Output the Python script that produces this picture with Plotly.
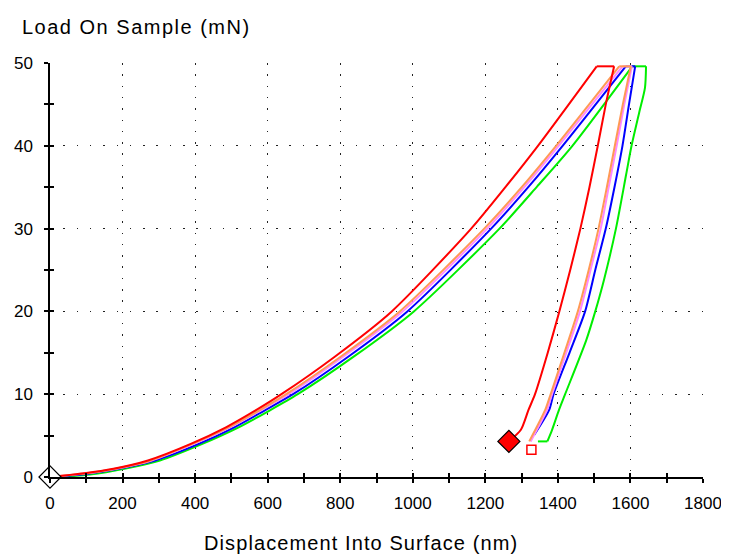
import plotly.graph_objects as go

# ---------------- data (displacement nm, load mN) ----------------
red_x = [0, 95, 175, 270, 388, 485, 569, 638, 784, 942, 1161, 1257, 1345, 1507,
         1555, 1532, 1510, 1487, 1462, 1434, 1404, 1372, 1337, 1319, 1298, 1265]
red_y = [0, 0.45, 1.0, 2.0, 4.0, 6.0, 8.1, 10, 14.5, 20, 30, 35.1, 40, 49.6,
         49.6, 45, 40, 35, 30, 25, 20, 15, 10, 8.1, 5.7, 4.3]

orange_x = [0, 100, 180, 277, 392, 492, 575, 651, 800, 964, 1197, 1302, 1395, 1569,
            1601, 1579, 1557, 1535, 1512, 1485, 1455, 1418, 1380, 1365, 1321]
orange_y = [0, 0.45, 1.0, 2.0, 4.0, 6.0, 8.0, 10, 14.5, 20, 30, 35.1, 40, 49.6,
            49.6, 45, 40, 35, 30, 25, 20, 15, 10, 8.1, 4.3]

pink_x = [0, 102, 182, 280, 396, 496, 579, 658, 807, 972, 1205, 1309, 1402, 1578,
          1604, 1583, 1562, 1540, 1518, 1490, 1461, 1423, 1384, 1370, 1325]
pink_y = [0, 0.45, 1.0, 2.0, 4.0, 6.0, 8.0, 10, 14.5, 20, 30, 35.1, 40, 49.6,
          49.6, 45, 40, 35, 30, 25, 20, 15, 10, 8.1, 4.3]

blue_x = [10, 105, 190, 290, 410, 508, 590, 670, 821, 985, 1216, 1320, 1413, 1587,
          1613, 1596, 1578, 1556, 1532, 1503, 1475, 1432, 1388, 1376, 1335]
blue_y = [0, 0.4, 1.0, 2.0, 4.0, 6.0, 8.0, 10, 14.5, 20, 30, 35.1, 40, 49.6,
          49.6, 45, 40, 35, 30, 25, 20, 15, 10, 8.1, 5.1]

green_x = [30, 110, 205, 303, 420, 520, 604, 683, 836, 1003, 1239, 1343, 1440, 1605,
           1643, 1640, 1624, 1603, 1588, 1560, 1527, 1503, 1478, 1420, 1403, 1384, 1371, 1345]
green_y = [0, 0.3, 1.0, 2.0, 4.0, 6.0, 8.0, 10, 14.5, 20, 30, 35.1, 40, 49.6,
           49.6, 47, 44, 40, 36.5, 30, 23.8, 20, 16.5, 10, 8.1, 5.7, 4.3, 4.3]

start_marker = (0, 0)
red_end_marker = (1265, 4.3)
red_square_marker = (1327, 3.3)

x_ticks = [0, 200, 400, 600, 800, 1000, 1200, 1400, 1600, 1800]
y_ticks = [0, 10, 20, 30, 40, 50]

# ---------------- figure ----------------
fig = go.Figure()
series = [
    (green_x, green_y, "#00ee00"),
    (blue_x, blue_y, "#0000ff"),
    (pink_x, pink_y, "#ff88ff"),
    (orange_x, orange_y, "#ff9955"),
    (red_x, red_y, "#ff0000"),
]


def add_line(xs, ys, color, shape):
    fig.add_trace(go.Scatter(x=xs, y=ys, mode="lines",
                             line=dict(color=color, width=2, shape=shape,
                                       smoothing=0.7 if shape == "spline" else None),
                             showlegend=False, hoverinfo="skip"))


for xs, ys, c in series:
    peak = max(ys)
    i0 = ys.index(peak)              # end of loading
    i1 = i0 + 1                      # end of hold
    # loading, hold, unloading segments of the same series
    add_line(xs[:i0 + 1], ys[:i0 + 1], c, "spline")
    add_line(xs[i0:i1 + 1], ys[i0:i1 + 1], c, "linear")
    tail = len(ys) - 1
    if ys[tail] == ys[tail - 1]:
        add_line(xs[i1:tail], ys[i1:tail], c, "spline")
        add_line(xs[tail - 1:], ys[tail - 1:], c, "linear")
    else:
        add_line(xs[i1:], ys[i1:], c, "spline")

fig.add_trace(go.Scatter(x=[start_marker[0]], y=[start_marker[1]], mode="markers",
                         marker=dict(symbol="diamond", size=17, color="white",
                                     line=dict(color="black", width=1.2)),
                         showlegend=False, cliponaxis=False))
fig.add_trace(go.Scatter(x=[red_end_marker[0]], y=[red_end_marker[1]], mode="markers",
                         marker=dict(symbol="diamond", size=17, color="#ff0000",
                                     line=dict(color="black", width=1.2)),
                         showlegend=False, cliponaxis=False))
fig.add_trace(go.Scatter(x=[red_square_marker[0]], y=[red_square_marker[1]], mode="markers",
                         marker=dict(symbol="square-open", size=9, color="#ff0000",
                                     line=dict(width=1.5)),
                         showlegend=False, cliponaxis=False))
# invisible trace for overlay axes (inside tick halves)
fig.add_trace(go.Scatter(x=[0], y=[0], xaxis="x2", yaxis="y2", mode="markers",
                         marker=dict(opacity=0), showlegend=False, hoverinfo="skip"))

font = dict(family="Liberation Sans, Arial, sans-serif", size=17, color="black")
title_font = dict(family="Liberation Sans, Arial, sans-serif", size=20, color="black")

# page body has an 8px default margin, so the figure is 8px smaller
fig.update_layout(
    width=721, height=546,
    margin=dict(l=42, r=26, t=55, b=77),
    paper_bgcolor="white", plot_bgcolor="white",
    font=font,
    xaxis=dict(range=[0, 1800], tickmode="array", tickvals=x_ticks,
               ticktext=[str(v) for v in x_ticks],
               showline=True, linecolor="black", linewidth=1.5,
               ticks="outside", ticklen=4, tickwidth=1.5, tickcolor="black",
               minor=dict(dtick=100, ticks="outside", ticklen=4, tickwidth=1.5,
                          tickcolor="black", showgrid=False),
               showgrid=True, gridcolor="#222", gridwidth=1, griddash="1.5px,9.8px",
               zeroline=False, ticklabelstandoff=6, tickfont=font, automargin=False),
    yaxis=dict(range=[0, 50], tickmode="array", tickvals=y_ticks,
               ticktext=[str(v) for v in y_ticks],
               showline=True, linecolor="black", linewidth=1.5,
               ticks="outside", ticklen=4, tickwidth=1.5, tickcolor="black",
               minor=dict(dtick=5, ticks="outside", ticklen=4, tickwidth=1.5,
                          tickcolor="black", showgrid=False),
               showgrid=True, gridcolor="#222", gridwidth=1, griddash="1.5px,11.8px",
               zeroline=False, ticklabelstandoff=8, tickfont=font, automargin=False),
    xaxis2=dict(overlaying="x", matches="x", range=[0, 1800], side="bottom",
                anchor="y2", tickvals=x_ticks, showticklabels=False,
                ticks="inside", ticklen=4, tickwidth=1.5, tickcolor="black",
                minor=dict(dtick=100, ticks="inside", ticklen=4, tickwidth=1.5,
                           tickcolor="black"),
                showgrid=False, zeroline=False, showline=False),
    yaxis2=dict(overlaying="y", matches="y", range=[0, 50], side="left",
                anchor="x2", tickvals=y_ticks, showticklabels=False,
                ticks="inside", ticklen=4, tickwidth=1.5, tickcolor="black",
                minor=dict(dtick=5, ticks="inside", ticklen=4, tickwidth=1.5,
                           tickcolor="black"),
                showgrid=False, zeroline=False, showline=False),
    annotations=[
        dict(text='<span style="letter-spacing:1.5px">Load On Sample (mN)</span>',
             xref="paper", yref="paper",
             x=-0.046, y=1.087, xanchor="left", yanchor="middle",
             showarrow=False, font=title_font),
        dict(text='<span style="letter-spacing:1.1px">Displacement Into Surface (nm)</span>',
             xref="paper", yref="paper",
             x=0.476, y=-0.159, xanchor="center", yanchor="middle",
             showarrow=False, font=title_font),
    ],
)

fig.write_html("out.html")
